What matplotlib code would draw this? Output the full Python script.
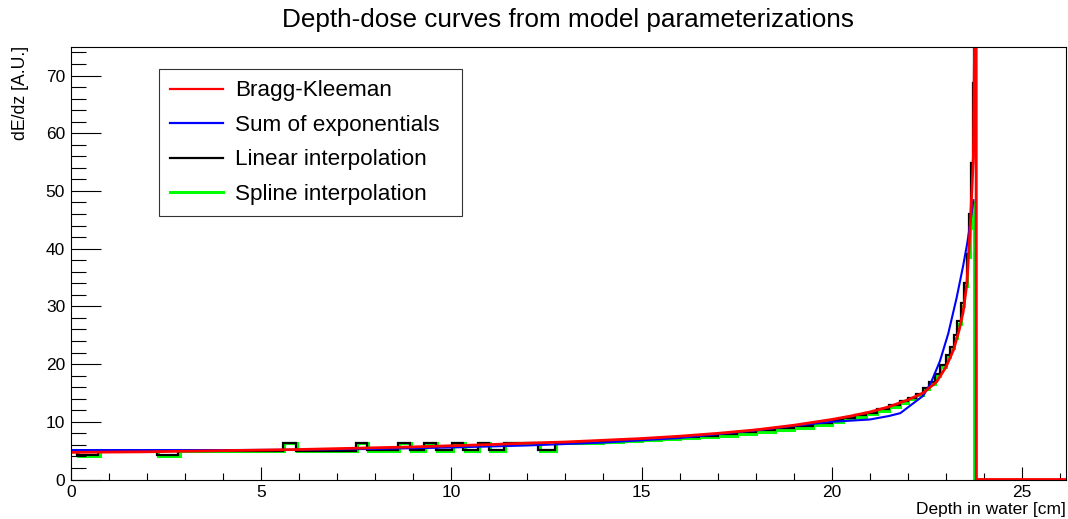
import numpy as np
import matplotlib
matplotlib.use("Agg")
import matplotlib.pyplot as plt
from matplotlib.ticker import MultipleLocator
from matplotlib.lines import Line2D

plt.rcParams['font.family'] = ['Liberation Sans', 'DejaVu Sans']

# Bragg-Kleeman model (smooth curve)
bk_depth = [0, 1, 2, 3, 4, 5, 6, 7, 8, 9, 10, 11, 12, 13, 14, 15, 16, 17, 18, 19,
            20, 20.5, 21, 21.5, 22, 22.4, 22.75, 23.0, 23.2, 23.35, 23.45, 23.55,
            23.63, 23.68, 23.72, 23.79, 23.80, 26.2]
bk_dose = [4.7, 4.75, 4.8, 4.9, 5.0, 5.1, 5.2, 5.35, 5.5, 5.65, 5.85, 6.05, 6.3, 6.5,
           6.8, 7.1, 7.5, 8.0, 8.6, 9.4, 10.4, 11.0, 11.7, 12.6, 13.8, 15.0, 16.9,
           19.5, 22.5, 26.0, 29.0, 34.0, 43.0, 50.0, 56.0, 100.0, 0.0, 0.0]

# sum of exponentials
se_depth = [0, 2, 4, 6, 8, 10, 12, 14, 16, 18, 19, 20, 20.5, 21, 21.5, 21.8, 22.2,
            22.4, 22.6, 22.84, 23.06, 23.28, 23.45, 23.56, 23.65, 23.72]
se_dose = [5.1, 5.1, 5.1, 5.15, 5.3, 5.55, 5.9, 6.4, 7.2, 8.5, 9.3, 10.0, 10.2, 10.4,
           11.0, 11.5, 13.5, 14.5, 16.7, 20.5, 25.3, 31.5, 37.0, 41.0, 45.0, 48.4]

# linear interpolation histogram
lin_edges = [0, 0.16, 0.73, 2.27, 2.83, 5.57, 5.92, 7.50, 7.79, 8.59, 8.91, 9.28, 9.60,
             10.01, 10.32, 10.69, 11.00, 11.38, 12.29, 12.72, 13.5, 14.0, 14.5, 15.0,
             15.5, 16.0, 16.5, 17.0, 17.5, 18.0, 18.5, 19.0, 19.5, 20.0, 20.3, 20.6,
             20.9, 21.2, 21.5, 21.8, 22.0, 22.2, 22.4, 22.55, 22.7, 22.85, 23.0, 23.1,
             23.2, 23.3, 23.4, 23.48, 23.55, 23.61, 23.66, 23.70, 23.73, 23.80, 26.2]
lin_vals = [5.0, 4.2, 5.0, 4.2, 5.0, 6.4, 5.0, 6.4, 5.1, 6.4, 5.1, 6.4, 5.1, 6.4, 5.1,
            6.4, 5.1, 6.4, 5.1, 6.4,
            6.5, 6.6, 6.8, 7.0, 7.2, 7.4, 7.6, 7.9, 8.2, 8.5, 8.9, 9.3, 9.8,
            10.3, 10.7, 11.1, 11.6, 12.2, 12.9, 13.6, 14.2, 14.9, 15.9, 16.9, 18.2,
            19.8, 21.5, 23.0, 25.0, 27.5, 30.5, 34.0, 39.0, 46.0, 54.8, 68.7, 100.0, 0.0]

# spline interpolation histogram
spl_edges = [0, 0.19, 0.76, 2.30, 2.86, 5.60, 5.95, 7.53, 7.82, 8.62, 8.94, 9.31, 9.63,
             10.04, 10.35, 10.72, 11.03, 11.41, 12.32, 12.75, 13.5, 14.0, 14.5, 15.0,
             15.5, 16.0, 16.5, 17.0, 17.5, 18.0, 18.5, 19.0, 19.5, 20.0, 20.3, 20.6,
             20.9, 21.2, 21.5, 21.8, 22.0, 22.2, 22.4, 22.55, 22.7, 22.85, 23.0, 23.1,
             23.2, 23.3, 23.4, 23.48, 23.55, 23.62, 23.68, 23.74, 26.2]
spl_vals = [4.9, 4.0, 4.9, 4.0, 4.9, 6.3, 4.9, 6.3, 4.9, 6.3, 4.9, 6.3, 4.9, 6.3, 4.9,
            6.3, 4.9, 6.3, 4.9, 6.3,
            6.4, 6.5, 6.6, 6.8, 7.0, 7.2, 7.4, 7.6, 7.9, 8.2, 8.6, 9.0, 9.5,
            10.0, 10.4, 10.8, 11.3, 11.9, 12.6, 13.3, 13.9, 14.6, 15.6, 16.6, 17.9,
            19.5, 21.2, 22.7, 24.6, 27.0, 30.0, 33.5, 38.5, 43.5, 48.0, 0.0]

fig = plt.figure(figsize=(10.68, 5.19), dpi=100)
ax = fig.add_axes([0.0662, 0.0761, 0.9318, 0.834])

ax.stairs(spl_vals, spl_edges, baseline=None, color='#00ff00', lw=2.2)
ax.stairs(lin_vals, lin_edges, baseline=None, color='black', lw=1.6)
ax.plot(se_depth, se_dose, color='#0000ff', lw=1.5)
ax.plot(bk_depth, bk_dose, color='#ff0000', lw=2.0)

ax.set_xlim(0, 26.15)
ax.set_ylim(0, 75)

ax.xaxis.set_major_locator(MultipleLocator(5))
ax.xaxis.set_minor_locator(MultipleLocator(1))
ax.yaxis.set_major_locator(MultipleLocator(10))
ax.yaxis.set_minor_locator(MultipleLocator(2))
ax.tick_params(axis='x', which='major', direction='in', length=9.5, width=0.8, labelsize=12.5, pad=4)
ax.tick_params(axis='x', which='minor', direction='in', length=5, width=0.8)
ax.tick_params(axis='y', which='major', direction='in', length=21.5, width=0.8, labelsize=12.5, pad=4)
ax.tick_params(axis='y', which='minor', direction='in', length=10.8, width=0.8)
for s in ax.spines.values():
    s.set_linewidth(0.8)

fig.text(0.998, 0.009, 'Depth in water [cm]', ha='right', va='baseline', fontsize=12.5)
fig.text(0.019, 0.912, 'dE/dz [A.U.]', ha='center', va='top', rotation=90, fontsize=12.7)
fig.text(0.532, 0.962, 'Depth-dose curves from model parameterizations', ha='center', va='center', fontsize=18.8)

labels = ['Bragg-Kleeman', 'Sum of exponentials', 'Linear interpolation', 'Spline interpolation']
handles = [Line2D([], [], color=c, lw=w)
           for c, w in [('#ff0000', 1.6), ('#0000ff', 1.6), ('black', 1.6), ('#00ff00', 2.2)]]
leg = ax.legend(handles, labels, loc='upper left',
                bbox_to_anchor=(0.0887, 0.948, 0.305, 0.0), mode='expand',
                fontsize=16.2, frameon=True, fancybox=False, edgecolor='black',
                handlelength=2.35, handletextpad=0.53, borderpad=0.5, labelspacing=0.6,
                borderaxespad=0)
leg.get_frame().set_linewidth(0.8)

fig.savefig('out.png', dpi=100)
